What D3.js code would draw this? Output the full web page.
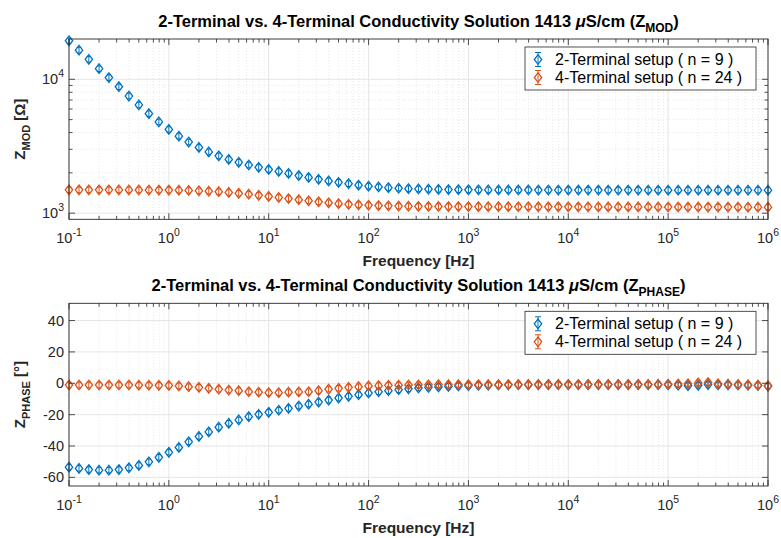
<!DOCTYPE html>
<html lang="en">
<head>
    <meta charset="UTF-8">
    <title>2-Terminal vs 4-Terminal</title>
    <script src="https://cdn.jsdelivr.net/npm/d3@7"></script>
    <style>
        body { margin: 0; background: #fff; }
        svg { display: block; font-family: "Liberation Sans", Arial, sans-serif; }
    </style>
</head>
<body>
<div id="chart"></div>
<script>

    // Frequencies of the sweep [Hz]
    const freq = [
        0.1, 0.126, 0.158, 0.2, 0.251, 0.316, 0.398, 0.501, 0.631, 0.794,
        1, 1.26, 1.58, 2, 2.51, 3.16, 3.98, 5.01, 6.31, 7.94,
        10, 12.6, 15.8, 20, 25.1, 31.6, 39.8, 50.1, 63.1, 79.4,
        100, 126, 158, 200, 251, 316, 398, 501, 631, 794,
        1e3, 1260, 1580, 2000, 2510, 3160, 3980, 5010, 6310, 7940,
        1e4, 12600, 15800, 20000, 25100, 31600, 39800, 50100, 63100, 79400,
        1e5, 126000, 158000, 200000, 251000, 316000, 398000, 501000, 631000, 794000,
        1e6
    ];

    // |Z| [Ohm]
    const zmod2 = [
        19400, 16500, 14100, 12000, 10300, 8800, 7500, 6430, 5540, 4800,
        4220, 3760, 3400, 3100, 2870, 2680, 2520, 2400, 2290, 2200,
        2120, 2050, 1980, 1910, 1850, 1790, 1740, 1700, 1660, 1620,
        1590, 1570, 1550, 1535, 1525, 1517, 1510, 1505, 1500, 1497,
        1495, 1493, 1492, 1491, 1490, 1490, 1490, 1489, 1489, 1489,
        1488, 1488, 1488, 1488, 1487, 1487, 1487, 1487, 1486, 1486,
        1486, 1486, 1486, 1485, 1485, 1485, 1485, 1485, 1484, 1484,
        1484
    ];
    const zmod4 = [
        1495, 1495, 1494, 1494, 1493, 1492, 1491, 1490, 1489, 1488,
        1488, 1485, 1478, 1470, 1460, 1446, 1428, 1408, 1385, 1360,
        1335, 1310, 1285, 1260, 1238, 1216, 1196, 1178, 1164, 1154,
        1146, 1139, 1134, 1130, 1127, 1125, 1123, 1122, 1121, 1120,
        1120, 1119, 1119, 1118, 1118, 1117, 1117, 1116, 1116, 1116,
        1115, 1115, 1115, 1114, 1114, 1114, 1113, 1113, 1113, 1112,
        1112, 1112, 1111, 1111, 1111, 1110, 1110, 1110, 1109, 1109,
        1108
    ];

    // phase [deg]
    const phase2 = [
        -53.5, -54.3, -55.0, -55.4, -55.4, -55.0, -53.9, -52.4, -50.1, -47.2,
        -44.0, -40.9, -37.3, -33.9, -31.0, -28.0, -25.5, -23.4, -21.3, -19.8,
        -18.5, -17.2, -16.0, -14.5, -13.3, -12.0, -10.7, -9.4, -8.3, -7.3,
        -6.2, -5.4, -4.7, -4.1, -3.5, -3.0, -2.6, -2.3, -2.0, -1.7,
        -1.5, -1.3, -1.2, -1.1, -1.0, -0.9, -0.9, -0.8, -0.8, -0.8,
        -0.8, -0.8, -0.8, -0.8, -0.8, -0.8, -0.8, -0.8, -0.9, -0.9,
        -1.0, -1.2, -1.5, -1.3, -0.8, -1.0, -1.0, -1.1, -1.2, -1.4,
        -1.8
    ];
    const phase4 = [
        -1.1, -1.1, -1.1, -1.1, -1.1, -1.1, -1.1, -1.2, -1.2, -1.3,
        -1.4, -1.7, -2.2, -2.6, -3.2, -3.8, -4.3, -4.7, -5.4, -5.7,
        -6.0, -6.0, -5.7, -5.5, -5.4, -4.7, -3.8, -3.2, -2.6, -2.2,
        -1.7, -1.5, -1.3, -1.2, -1.1, -1.0, -1.0, -0.9, -0.9, -0.9,
        -0.9, -0.9, -0.9, -0.9, -0.9, -0.9, -0.9, -0.9, -0.9, -0.9,
        -0.9, -0.9, -0.9, -0.9, -0.9, -0.9, -0.9, -0.8, -0.8, -0.7,
        -0.6, -0.5, -0.3, 0.2, 0.5, -0.3, -0.6, -0.8, -1.0, -1.2,
        -1.6
    ];

    const legendLabels = ["2-Terminal setup ( n = 9 )", "4-Terminal setup ( n = 24 )"];
    const colors = ["#0072BD", "#D95319"];
    const xDecades = [-1, 0, 1, 2, 3, 4, 5, 6];
    const modTicks = [1e3, 1e4];
    const phaseTicks = [-60, -40, -20, 0, 20, 40];

    const width = 781, height = 538;
    const axisColor = "#262626";

    const svg = d3.select("#chart").append("svg")
        .attr("width", width)
        .attr("height", height)
        .attr("viewBox", [0, 0, width, height]);

    const x = d3.scaleLog().domain([0.1, 1e6]).range([69, 768]);

    // minor positions on a log axis
    function logMinors(lo, hi) {
        const out = [];
        for (let e = Math.floor(Math.log10(lo)); e <= Math.ceil(Math.log10(hi)); e++) {
            for (let m = 2; m <= 9; m++) {
                const v = m * Math.pow(10, e);
                if (v > lo && v < hi) out.push(v);
            }
        }
        return out;
    }

    // text "10^e" with superscript
    function powLabel(sel, e) {
        sel.append("tspan").text("10");
        sel.append("tspan").attr("dy", -7).attr("font-size", 10.5).text(e);
    }

    // errorbar + diamond glyph
    function marker(g, cx, cy, color, big) {
        const hw = 3.7, hh = 4.8, eb = big ? 7 : 2.8, cw = big ? 3 : 2.2;
        g.append("path")
            .attr("d", `M${cx},${cy - hh}L${cx + hw},${cy}L${cx},${cy + hh}L${cx - hw},${cy}Z`)
            .attr("fill", "none").attr("stroke", color).attr("stroke-width", 1.3);
        g.append("path")
            .attr("d", `M${cx},${cy - eb}V${cy + eb}M${cx - cw},${cy - eb}H${cx + cw}M${cx - cw},${cy + eb}H${cx + cw}`)
            .attr("fill", "none").attr("stroke", color).attr("stroke-width", 1);
    }

    function panel(cfg) {
        const y = cfg.y;
        const [y0, y1] = y.range();   // bottom, top
        const [x0, x1] = x.range();
        const g = svg.append("g");

        g.append("rect").attr("x", x0).attr("y", y1).attr("width", x1 - x0).attr("height", y0 - y1)
            .attr("fill", "#fff");

        // minor grid
        const xMinor = logMinors(0.1, 1e6);
        g.append("g").selectAll("line").data(xMinor).join("line")
            .attr("x1", d => x(d)).attr("x2", d => x(d)).attr("y1", y1).attr("y2", y0)
            .attr("stroke", "#e3e3e3").attr("stroke-width", 0.8).attr("stroke-dasharray", "1,2");
        g.append("g").selectAll("line").data(cfg.yMinor).join("line")
            .attr("y1", d => y(d)).attr("y2", d => y(d)).attr("x1", x0).attr("x2", x1)
            .attr("stroke", "#e3e3e3").attr("stroke-width", 0.8).attr("stroke-dasharray", "1,2");

        // major grid
        g.append("g").selectAll("line").data(xDecades).join("line")
            .attr("x1", d => x(Math.pow(10, d))).attr("x2", d => x(Math.pow(10, d))).attr("y1", y1).attr("y2", y0)
            .attr("stroke", "#e2e2e2").attr("stroke-width", 0.9);
        g.append("g").selectAll("line").data(cfg.yTicks).join("line")
            .attr("y1", d => y(d)).attr("y2", d => y(d)).attr("x1", x0).attr("x2", x1)
            .attr("stroke", "#e2e2e2").attr("stroke-width", 0.9);

        // data
        cfg.series.forEach((s, k) => {
            const sg = g.append("g");
            freq.forEach((f, i) => marker(sg, x(f), y(s[i]), colors[k], false));
        });

        // ticks (inward, on all four sides)
        const tk = g.append("g").attr("stroke", axisColor).attr("stroke-width", 0.8);
        xDecades.forEach(d => {
            const px = x(Math.pow(10, d));
            tk.append("line").attr("x1", px).attr("x2", px).attr("y1", y0).attr("y2", y0 - 6);
            tk.append("line").attr("x1", px).attr("x2", px).attr("y1", y1).attr("y2", y1 + 6);
        });
        xMinor.forEach(d => {
            const px = x(d);
            tk.append("line").attr("x1", px).attr("x2", px).attr("y1", y0).attr("y2", y0 - 3.5);
            tk.append("line").attr("x1", px).attr("x2", px).attr("y1", y1).attr("y2", y1 + 3.5);
        });
        cfg.yTicks.forEach(d => {
            const py = y(d);
            tk.append("line").attr("y1", py).attr("y2", py).attr("x1", x0).attr("x2", x0 + 6);
            tk.append("line").attr("y1", py).attr("y2", py).attr("x1", x1).attr("x2", x1 - 6);
        });
        cfg.yMinorTicks.forEach(d => {
            const py = y(d);
            tk.append("line").attr("y1", py).attr("y2", py).attr("x1", x0).attr("x2", x0 + 3.5);
            tk.append("line").attr("y1", py).attr("y2", py).attr("x1", x1).attr("x2", x1 - 3.5);
        });

        // box
        g.append("rect").attr("x", x0).attr("y", y1).attr("width", x1 - x0).attr("height", y0 - y1)
            .attr("fill", "none").attr("stroke", axisColor).attr("stroke-width", 0.9);

        // x tick labels
        xDecades.forEach(d => {
            const t = g.append("text").attr("x", x(Math.pow(10, d))).attr("y", y0 + 24)
                .attr("text-anchor", "middle").attr("font-size", 14.5).attr("fill", axisColor);
            powLabel(t, d);
        });
        // y tick labels
        cfg.yTicks.forEach(d => {
            const t = g.append("text").attr("x", x0 - 5).attr("y", y(d) + 5)
                .attr("text-anchor", "end").attr("font-size", 14.5).attr("fill", axisColor);
            if (cfg.logY) powLabel(t, Math.round(Math.log10(d)));
            else t.text(d);
        });

        // x label
        g.append("text").attr("x", (x0 + x1) / 2).attr("y", y0 + 47)
            .attr("text-anchor", "middle").attr("font-size", 15.5).attr("font-weight", "bold")
            .attr("fill", axisColor).text("Frequency [Hz]");

        // y label
        const yl = g.append("text")
            .attr("transform", `translate(25,${(y0 + y1) / 2}) rotate(-90)`)
            .attr("text-anchor", "middle").attr("font-size", 15).attr("font-weight", "bold")
            .attr("fill", axisColor);
        yl.append("tspan").text("Z");
        yl.append("tspan").attr("font-size", 11).attr("dy", 5).text(cfg.sub);
        yl.append("tspan").attr("dy", -5).text(" " + cfg.unit);

        // title
        const tt = g.append("text").attr("x", (x0 + x1) / 2).attr("y", y1 - 12)
            .attr("text-anchor", "middle").attr("font-size", 16.5).attr("font-weight", "bold")
            .attr("fill", "#000");
        tt.append("tspan").text("2-Terminal vs. 4-Terminal Conductivity Solution 1413 ");
        tt.append("tspan").attr("font-style", "italic").text("\u03bc");
        tt.append("tspan").text("S/cm (Z");
        tt.append("tspan").attr("font-size", 12).attr("dy", 5).text(cfg.sub);
        tt.append("tspan").attr("dy", -5).text(")");

        // legend
        const lg = g.append("g").attr("transform", `translate(525,${y1 + 8})`);
        lg.append("rect").attr("width", 231).attr("height", 43)
            .attr("fill", "#fff").attr("stroke", axisColor).attr("stroke-width", 0.8);
        legendLabels.forEach((lab, k) => {
            const cy = 12.5 + k * 18;
            marker(lg, 13, cy, colors[k], true);
            lg.append("text").attr("x", 30).attr("y", cy + 5.5).attr("font-size", 16)
                .attr("fill", "#000").text(lab);
        });
    }

    panel({
        y: d3.scaleLog().domain([900, 20000]).range([219.3, 39]),
        logY: true,
        yTicks: modTicks,
        yMinor: logMinors(900, 20000),
        yMinorTicks: logMinors(900, 20000),
        series: [zmod2, zmod4],
        sub: "MOD",
        unit: "[\u03a9]"
    });

    panel({
        y: d3.scaleLinear().domain([-65.5, 51]).range([486, 303.3]),
        logY: false,
        yTicks: phaseTicks,
        yMinor: [],
        yMinorTicks: [],
        series: [phase2, phase4],
        sub: "PHASE",
        unit: "[\u00b0]"
    });

</script>
</body>
</html>
